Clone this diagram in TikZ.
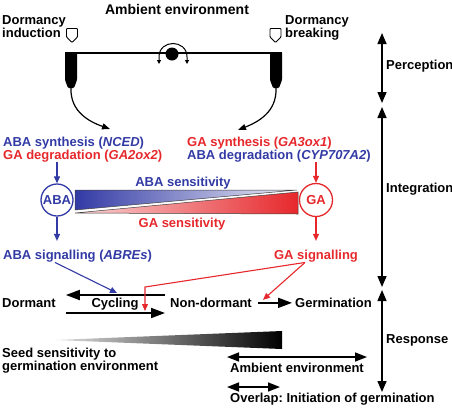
\documentclass[tikz,border=0pt]{standalone}
\usepackage{fontspec}
\setmainfont{Liberation Sans}
\usetikzlibrary{arrows.meta}
\definecolor{abablue}{RGB}{50,58,165}
\definecolor{gared}{RGB}{230,40,44}
\frenchspacing
\begin{document}
\begin{tikzpicture}[x=1pt, y=-1pt, >={Triangle[length=11pt,width=9pt]},
  txt/.style={font=\fontsize{13}{13.5}\selectfont\bfseries, inner sep=0pt, align=left},
  bigarr/.style={line width=1.8pt, -{Triangle[length=14pt,width=10pt]}},
  sidearr/.style={line width=1.5pt, {Triangle[length=11pt,width=9pt]}-{Triangle[length=11pt,width=9pt]}},
  envarr/.style={line width=1.5pt, {Triangle[length=12pt,width=9pt]}-{Triangle[length=12pt,width=9pt]}},
  bluearr/.style={abablue, line width=1.1pt, -{Triangle[length=7pt,width=6pt]}},
  redarr/.style={gared, line width=1.1pt, -{Triangle[length=7pt,width=6pt]}},
  curvearr/.style={line width=1.2pt, -{Triangle[length=8pt,width=6pt]}},
  shield/.style={line width=0.9pt, rounded corners=0.8pt},
  wedge/.style={draw=black!75, line width=0.5pt}]
\useasboundingbox (0,0) rectangle (452,408);

% perception
\node[txt, font=\fontsize{14}{14}\selectfont\bfseries, anchor=base] (ambtop) at (177,14.5) {Ambient environment};
\node[txt, anchor=base west] (dind) at (2,37.5) {Dormancy\\induction};
\node[txt, anchor=base west] (dbrk) at (285,37.5) {Dormancy\\breaking};
\draw[shield] (66.5,28.5)--(77.5,28.5)--(77.5,37)--(72,42.5)--(66.5,37)--cycle;
\draw[shield] (270,28.5)--(281,28.5)--(281,37)--(275.5,42.5)--(270,37)--cycle;
\draw[line width=1.6pt] (65,53)--(282,53);
\fill[rounded corners=1pt] (65,52)--(77,52)--(77,80)--(74,88)--(68,88)--(65,80)--cycle;
\fill[rounded corners=1pt] (270,52)--(282,52)--(282,80)--(279,88)--(273,88)--(270,80)--cycle;
\fill (172,54) circle (6.5pt);
\draw[line width=1pt, {Triangle[length=4pt,width=4pt]}-{Triangle[length=4pt,width=4pt]}]
  (159,64)--(159,57) .. controls (159,39) and (187,39) .. (187,57)--(187,64);
\coordinate (barL) at (71,88);
\coordinate (barR) at (276,88);
\coordinate (inL) at (110,129);
\coordinate (inR) at (238,130);
\draw[curvearr] (barL) .. controls (70,112) and (90,122) .. (inL);
\draw[curvearr] (barR) .. controls (277,112) and (258,122) .. (inR);

% integration
\node[txt, text=abablue, anchor=base west] (abasyn) at (3,146.5) {ABA synthesis (\textit{NCED})};
\node[txt, text=gared, anchor=base west] (gadeg) at (3,159.5) {GA degradation (\textit{GA2ox2})};
\node[txt, text=gared, anchor=base west] (gasyn) at (187,146.5) {GA synthesis (\textit{GA3ox1})};
\node[txt, text=abablue, anchor=base west] (abadeg) at (187,159.5) {ABA degradation (\textit{CYP707A2})};
\node[txt, circle, draw=abablue, line width=1.3pt, minimum size=32pt, text=abablue] (aba) at (57,200) {ABA};
\node[txt, circle, draw=gared, line width=1.3pt, minimum size=33pt, text=gared] (ga) at (316,200) {GA};
\shade[wedge, left color=abablue, right color=abablue!8] (75,190)--(297,190)--(75,210)--cycle;
\shade[wedge, left color=gared!20, right color=gared] (75,213)--(298,192)--(298,214)--cycle;
\node[txt, text=abablue, anchor=base] (abasens) at (183,186.5) {ABA sensitivity};
\node[txt, text=gared, anchor=base] (gasens) at (182,227.5) {GA sensitivity};
\node[txt, text=abablue, anchor=base west] (abasig) at (3,259.5) {ABA signalling (\textit{ABREs})};
\node[txt, text=gared, anchor=base] (gasig) at (316,259.5) {GA signalling};
\draw[bluearr] (aba |- gadeg.south) -- (aba);
\draw[bluearr, shorten >=9pt] (aba) -- (aba |- abasig.north);
\draw[redarr] (ga |- abadeg.south) -- (ga);
\draw[redarr, shorten >=9pt] (ga) -- (gasig.north);

% response
\node[txt, anchor=base west] (dormant) at (2,307.5) {Dormant};
\node[txt, anchor=base] (cycling) at (115,307.5) {Cycling};
\node[txt, anchor=base west] (nondorm) at (170,307.5) {Non-dormant};
\node[txt, anchor=base west] (germ) at (295,307.5) {Germination};
\coordinate (cyctop) at (0,295);
\coordinate (cycbot) at (0,313);
\draw[bigarr, shorten <=5pt, shorten >=10pt] (nondorm.west |- cyctop) -- (dormant.east |- cyctop);
\draw[bigarr, shorten <=10pt, shorten >=5pt] (dormant.east |- cycbot) -- (nondorm.west |- cycbot);
\draw[bigarr, shorten <=6pt, shorten >=3pt] (nondorm.east) -- (germ.west);
\coordinate (redbend) at (145,287);
\draw[bluearr] ([xshift=52pt]abasig.south west) -- (117,293);
\draw[redarr] ([xshift=-11pt]gasig.south) -- (redbend) -- ++(0,24);
\draw[redarr] ([xshift=-11pt]gasig.south) -- ([xshift=11pt,yshift=3pt]nondorm.east);
\shade[left color=black!12, right color=black] (55,340)--(282,331)--(282,349)--cycle;
\node[txt, anchor=base west] (seed) at (2,370.5) {Seed sensitivity to\\germination environment};
\node[txt, anchor=base west] (ambbot) at (230,372.5) {Ambient environment};
\node[txt, anchor=base west] (overlap) at (230,402.5) {Overlap: Initiation of germination};
\draw[envarr] (227,357) -- (367,357);
\draw[envarr] (227,387) -- (280,387);

% stages
\node[txt, anchor=base west] (perc) at (386,69.5) {Perception};
\node[txt, anchor=base west] (integ) at (386,192.5) {Integration};
\node[txt, anchor=base west] (resp) at (386,343.5) {Response};
\draw[sidearr] (382,33) -- (382,103);
\draw[sidearr] (382,107) -- (382,287);
\draw[sidearr] (382,290) -- (382,392);
\end{tikzpicture}
\end{document}
